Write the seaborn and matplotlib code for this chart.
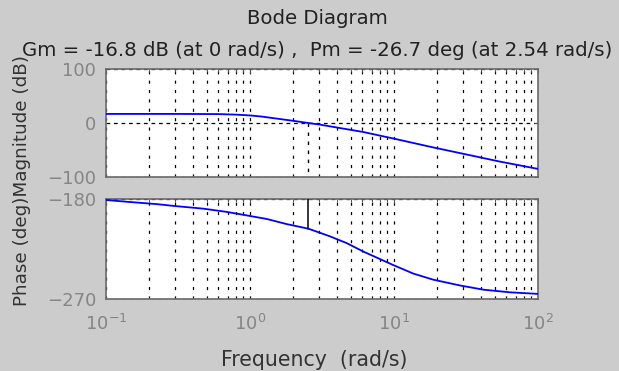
import numpy as np
import pandas as pd
import matplotlib
matplotlib.use("Agg")
import matplotlib.pyplot as plt
import seaborn as sns
from matplotlib.ticker import LogLocator, FixedLocator

# ---- data ----
mag_freq = [0.1, 0.3, 0.6, 0.8, 1.0, 1.2, 1.5, 2.0, 2.54, 3.06, 4.45, 6.1, 10.0, 19.0, 30.0, 54.0, 100.0]
mag_db   = [16.8, 16.8, 16.5, 15.5, 14.0, 12.0, 8.5, 4.0, 0.0, -3.0, -10.4, -16.6, -29.0, -45.6, -56.8, -71.3, -85.0]

ph_freq = [0.1, 0.143, 0.225, 0.294, 0.474, 0.689, 0.897, 1.31, 1.80, 2.54, 3.59, 4.69, 6.12, 9.9,
           13.6, 18.7, 28.7, 41.7, 64.0, 100.0]
ph_deg  = [-180.9, -182.6, -184.6, -186.2, -188.7, -191.6, -194.2, -198.0, -202.6, -206.7, -213.6,
           -219.7, -227.3, -239.5, -247.1, -252.6, -257.8, -261.6, -264.0, -265.4]

pm_freq = 2.54
pm_phase = -206.7

mag_ticks = [-100, 0, 100]
ph_ticks = [-270, -180]

title1 = "Bode Diagram"
title2 = "Gm = -16.8 dB (at 0 rad/s) ,  Pm = -26.7 deg (at 2.54 rad/s)"
ylab = "Phase (deg)Magnitude (dB)"
xlab = "Frequency  (rad/s)"

# ---- style ----
sns.set_theme(style="white")
plt.rcParams['font.family'] = ['DejaVu Sans']
plt.rcParams['mathtext.fontset'] = 'dejavusans'
plt.rcParams['mathtext.default'] = 'regular'

bg = '#cccccc'
tick_col = '#858585'
fig = plt.figure(figsize=(6.19, 3.71), dpi=100, facecolor=bg)

L, R = 106/619, 538/619
ax1 = fig.add_axes([L, 1-177/371, R-L, (177-69)/371])
ax2 = fig.add_axes([L, 1-299/371, R-L, (299-199)/371])

mag_df = pd.DataFrame({"freq": mag_freq, "mag": mag_db})
ph_df = pd.DataFrame({"freq": ph_freq, "phase": ph_deg})

sns.lineplot(data=mag_df, x="freq", y="mag", ax=ax1, color='#0000ff', lw=1.3, zorder=5)
sns.lineplot(data=ph_df, x="freq", y="phase", ax=ax2, color='#0000ff', lw=1.3, zorder=5)

for ax in (ax1, ax2):
    ax.set_facecolor('white')
    ax.set_xscale('log')
    ax.set_xlim(0.1, 100)
    ax.xaxis.set_major_locator(LogLocator(base=10, numticks=10))
    ax.xaxis.set_minor_locator(LogLocator(base=10, subs=np.arange(2, 10), numticks=20))
    ax.grid(True, which='both', axis='x', color='black', linestyle=(0, (2.5, 5)), lw=0.9)
    ax.grid(True, which='major', axis='y', color='black', linestyle=(0, (3, 3)), lw=0.9)
    ax.tick_params(which='both', direction='in', top=True, right=True, colors='#555555',
                   labelcolor=tick_col, labelsize=13, length=3, width=0.7)
    ax.tick_params(axis='y', pad=7)
    ax.tick_params(which='minor', length=2)
    for s in ax.spines.values():
        s.set_color('#6a6a6a')
        s.set_linewidth(1.2)
    ax.set_xlabel('')
    ax.set_ylabel('')

ax1.set_ylim(-100, 100)
ax1.yaxis.set_major_locator(FixedLocator(mag_ticks))
ax1.tick_params(axis='x', labelbottom=False)
ax2.set_ylim(-270, -180)
ax2.yaxis.set_major_locator(FixedLocator(ph_ticks))
ax2.tick_params(axis='x', pad=11)

# margin markers
ax1.plot([pm_freq, pm_freq], [0, -100], color='black', linestyle=(0, (2.5, 4)), lw=1.0, zorder=4)
ax2.plot([pm_freq, pm_freq], [-180, pm_phase], color='black', lw=1.1, zorder=4)

fig.text(0.512, 1-19/371, title1, ha='center', va='center', fontsize=14.2, color='#222222')
fig.text(0.512, 1-50/371, title2, ha='center', va='center', fontsize=14.2, color='#222222')
fig.text(22/619, 1-181/371, ylab, ha='center', va='center', rotation=90, fontsize=13.2, color='#333333')
fig.text(0.508, 1-360/371, xlab, ha='center', va='center', fontsize=14.8, color='#333333')

fig.savefig('out.png', dpi=100, facecolor=bg)
